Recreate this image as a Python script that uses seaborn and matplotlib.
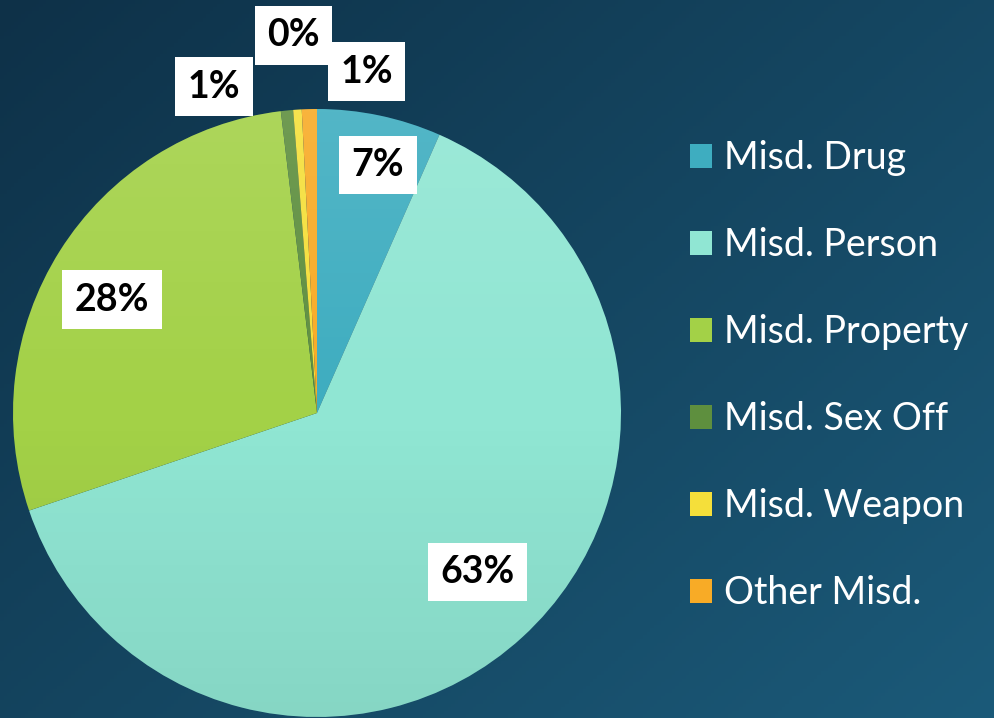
"""Misdemeanor offense mix pie chart."""

import matplotlib.pyplot as plt
import seaborn as sns
import numpy as np
from matplotlib.patches import Circle
from matplotlib.colors import to_rgb

categories = ['Misd. Drug', 'Misd. Person', 'Misd. Property',
              'Misd. Sex Off', 'Misd. Weapon', 'Other Misd.']
shares = [6.6, 63.2, 28.3, 0.65, 0.45, 0.8]
slice_colors = ['#3eadc0', '#90e6d3', '#a3d147', '#5e8f3e', '#f5df3a', '#f8ab26']

# label placement per slice: (radius factor, angle deg); thin slices sit outside
label_spots = [(0.84, 76.2), (0.742, -44.8), (0.77, 151.1),
               (1.125, 107.5), (1.245, 93.6), (1.135, 81.7)]

sns.set_theme(style='white')
plt.rcParams['font.family'] = ['Lato', 'DejaVu Sans']

W, H = 995, 718
fig = plt.figure(figsize=(W / 100, H / 100), dpi=100)

# background gradient, darker top-left to lighter bottom-right
bg = fig.add_axes([0, 0, 1, 1], zorder=-1)
yy, xx = np.mgrid[0:1:200j, 0:1:280j]
t = (0.55 * xx + 0.45 * yy)[..., None]
c0 = np.array(to_rgb('#0e3148'))
c1 = np.array(to_rgb('#1b5a79'))
bg.imshow(c0 + (c1 - c0) * t, aspect='auto', extent=(0, 1, 0, 1))
bg.axis('off')

ax = fig.add_axes([0, 0, 1, 1])
center = (317, H - 413)
radius = 304
wedges, texts, autotexts = ax.pie(
    shares, colors=sns.color_palette(slice_colors), startangle=90,
    counterclock=False, center=center, radius=radius,
    autopct=lambda p: f'{p:.0f}%', pctdistance=0.8,
    wedgeprops=dict(linewidth=0),
    textprops=dict(fontsize=27, fontweight='bold', color='black'))

# soft vertical sheen over the pie
sheen = np.zeros((200, 2, 4))
g = np.linspace(0, 1, 200)
sheen[..., :3] = np.where(g[:, None] < 0.5, 1.0, 0.0)[..., None]
sheen[..., 3] = np.abs(0.5 - g)[:, None] * np.where(g[:, None] < 0.5, 0.22, 0.14)
im = ax.imshow(sheen, aspect='auto', zorder=3,
               extent=(center[0] - radius, center[0] + radius,
                       center[1] - radius, center[1] + radius))
im.set_clip_path(Circle(center, radius, transform=ax.transData))

for txt, (f, ang) in zip(autotexts, label_spots):
    a = np.deg2rad(ang)
    txt.set_position((center[0] + f * radius * np.cos(a),
                      center[1] + f * radius * np.sin(a)))
    txt.set_zorder(5)
    txt.set_bbox(dict(boxstyle='square,pad=0.33', facecolor='white',
                      edgecolor='none'))

ax.set_xlim(0, W)
ax.set_ylim(0, H)
ax.set_aspect('equal')
ax.axis('off')

leg = ax.legend(wedges, categories, loc='upper left',
                bbox_to_anchor=(690 / W, 1 - 140 / H),
                bbox_transform=fig.transFigure, frameon=False,
                fontsize=27, labelcolor='white', handlelength=0.6,
                handleheight=0.6, handletextpad=0.3, labelspacing=1.36,
                borderpad=0, borderaxespad=0)

fig.savefig('out.png', dpi=100)
